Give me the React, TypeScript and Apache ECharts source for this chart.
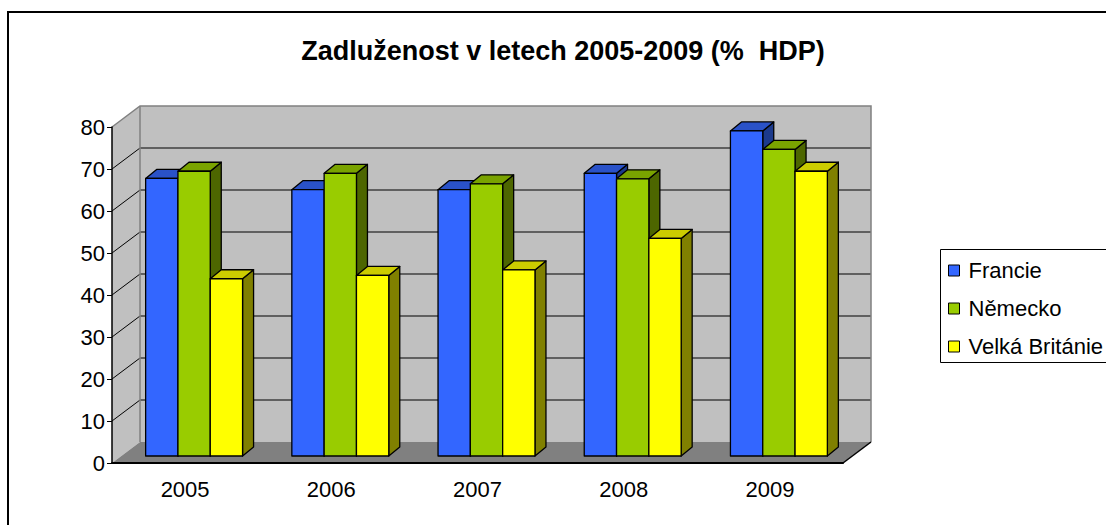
import React, { useEffect, useRef } from "react";
import * as echarts from "echarts";

const years = ["2005", "2006", "2007", "2008", "2009"];
const francie = [66.1, 63.4, 63.4, 67.3, 77.4];
const nemecko = [67.8, 67.3, 64.8, 66.0, 73.0];
const velkaBritanie = [42.2, 43.0, 44.3, 51.8, 67.8];
const seriesNames = ["Francie", "Německo", "Velká Británie"];
const yTicks = [0, 10, 20, 30, 40, 50, 60, 70, 80];

const FONT = "'Liberation Sans', Arial, sans-serif";
const colors = [
  { front: "#3366FF", top: "#2A52C8", side: "#1C3A8C" },
  { front: "#99CC00", top: "#7AA300", side: "#4D6600" },
  { front: "#FFFF00", top: "#CCCC00", side: "#808000" },
];

// depth geometry (pixels)
const WALL_DX = 28;
const WALL_DY = -21;
const BAR_OFF_DX = 9;
const BAR_OFF_DY = -7;
const BAR_DX = 11;
const BAR_DY = -9;
const BAR_FRAC = 0.221;

export default function App() {
  const ref = useRef<HTMLDivElement>(null);
  useEffect(() => {
    document.body.style.margin = "0";
    const chart = echarts.init(ref.current!, null, { renderer: "svg" });

    const wallsRender = (params: any, api: any) => {
      const band = api.size([1, 0])[0];
      const n = years.length;
      const left = api.coord([0, 0])[0] - band / 2;
      const right = api.coord([n - 1, 0])[0] + band / 2;
      const y0 = api.coord([0, yTicks[0]])[1];
      const yMax = api.coord([0, yTicks[yTicks.length - 1]])[1];
      const children: any[] = [];
      children.push({
        type: "polygon",
        shape: {
          points: [
            [left + WALL_DX, yMax + WALL_DY],
            [right + WALL_DX, yMax + WALL_DY],
            [right + WALL_DX, y0 + WALL_DY],
            [left + WALL_DX, y0 + WALL_DY],
          ],
        },
        style: { fill: "#C0C0C0", stroke: "none" },
      });
      children.push({
        type: "polygon",
        shape: {
          points: [
            [left, yMax],
            [left + WALL_DX, yMax + WALL_DY],
            [left + WALL_DX, y0 + WALL_DY],
            [left, y0],
          ],
        },
        style: { fill: "#C0C0C0", stroke: "none" },
      });
      for (let i = 1; i < yTicks.length - 1; i++) {
        const y = api.coord([0, yTicks[i]])[1];
        children.push({
          type: "polyline",
          shape: {
            points: [
              [left, y],
              [left + WALL_DX, y + WALL_DY],
              [right + WALL_DX, y + WALL_DY],
            ],
          },
          style: { stroke: "#000", lineWidth: 1, fill: "none" },
        });
      }
      children.push({
        type: "polyline",
        shape: {
          points: [
            [left, yMax],
            [left + WALL_DX, yMax + WALL_DY],
            [right + WALL_DX, yMax + WALL_DY],
            [right + WALL_DX, y0 + WALL_DY],
          ],
        },
        style: { stroke: "#808080", lineWidth: 1.5, fill: "none" },
      });
      children.push({
        type: "line",
        shape: { x1: left + WALL_DX, y1: yMax + WALL_DY, x2: left + WALL_DX, y2: y0 + WALL_DY },
        style: { stroke: "#808080", lineWidth: 1.5 },
      });
      children.push({
        type: "polygon",
        shape: {
          points: [
            [left, y0],
            [left + WALL_DX, y0 + WALL_DY],
            [right + WALL_DX, y0 + WALL_DY],
            [right, y0],
          ],
        },
        style: { fill: "#808080", stroke: "none" },
      });
      children.push({
        type: "line",
        shape: { x1: right + WALL_DX, y1: y0 + WALL_DY, x2: right, y2: y0 },
        style: { stroke: "#000", lineWidth: 1.5 },
      });
      return { type: "group", children };
    };

    const barRender = (sIdx: number) => (params: any, api: any) => {
      const cat = api.value(0);
      const val = api.value(1);
      const top = api.coord([cat, val]);
      const base = api.coord([cat, 0]);
      const band = api.size([1, 0])[0];
      const bw = band * BAR_FRAC;
      const cx = top[0] + (sIdx - 1) * bw + BAR_OFF_DX;
      const x0 = cx - bw / 2;
      const x1 = cx + bw / 2;
      const yT = top[1] + BAR_OFF_DY;
      const yB = base[1] + BAR_OFF_DY;
      const c = colors[sIdx];
      const edge = { stroke: "#000", lineWidth: 1.3, lineJoin: "round" };
      return {
        type: "group",
        children: [
          {
            type: "polygon",
            shape: {
              points: [
                [x1, yT],
                [x1 + BAR_DX, yT + BAR_DY],
                [x1 + BAR_DX, yB + BAR_DY],
                [x1, yB],
              ],
            },
            style: { fill: c.side, ...edge },
          },
          {
            type: "polygon",
            shape: {
              points: [
                [x0, yT],
                [x0 + BAR_DX, yT + BAR_DY],
                [x1 + BAR_DX, yT + BAR_DY],
                [x1, yT],
              ],
            },
            style: { fill: c.top, ...edge },
          },
          {
            type: "rect",
            shape: { x: x0, y: yT, width: bw, height: yB - yT },
            style: { fill: c.front, ...edge },
          },
        ],
      };
    };

    const datasets = [francie, nemecko, velkaBritanie];

    chart.setOption({
      animation: false,
      title: {
        text: "Zadluženost v letech 2005-2009 (%  HDP)",
        left: 563,
        textAlign: "center",
        top: 37,
        padding: 0,
        textStyle: { fontFamily: FONT, fontSize: 27, fontWeight: "bold", color: "#000" },
      },
      legend: {
        orient: "vertical",
        left: 948,
        top: 259,
        padding: 0,
        itemWidth: 11,
        itemHeight: 11,
        itemGap: 15,
        icon: "rect",
        itemStyle: { borderColor: "#000", borderWidth: 1 },
        textStyle: { fontFamily: FONT, fontSize: 22, color: "#000", lineHeight: 23, padding: [0, 0, 0, 4] },
        data: seriesNames,
      },
      grid: { left: 112, top: 127, width: 731, height: 336 },
      xAxis: {
        type: "category",
        data: years,
        z: 10,
        axisLine: { lineStyle: { color: "#000", width: 2 } },
        axisTick: { lineStyle: { color: "#000" }, length: 6 },
        axisLabel: { fontFamily: FONT, fontSize: 22, color: "#000", margin: 15 },
      },
      yAxis: {
        type: "value",
        min: 0,
        max: 80,
        interval: 10,
        z: 10,
        axisLine: { show: true, lineStyle: { color: "#000", width: 1.5 } },
        axisTick: { show: true, lineStyle: { color: "#000" }, length: 5 },
        axisLabel: { fontFamily: FONT, fontSize: 22, color: "#000", margin: 7 },
        splitLine: { show: false },
      },
      graphic: [
        {
          type: "rect",
          shape: { x: 8, y: 12, width: 1200, height: 600 },
          style: { fill: "none", stroke: "#000", lineWidth: 2 },
          z: 100,
        },
        {
          type: "rect",
          shape: { x: 940.5, y: 249.5, width: 300, height: 113 },
          style: { fill: "none", stroke: "#000", lineWidth: 1 },
          z: 100,
        },
      ],
      series: [
        {
          type: "custom",
          name: "walls",
          z: 1,
          silent: true,
          renderItem: wallsRender,
          data: [[0, 0]],
        },
        ...datasets.map((d, s) => ({
          type: "custom",
          name: seriesNames[s],
          z: 2,
          itemStyle: { color: colors[s].front },
          renderItem: barRender(s),
          data: d.map((v, i) => [i, v]),
        })),
      ],
    });
    return () => chart.dispose();
  }, []);
  return <div ref={ref} style={{ width: 1106, height: 525 }} />;
}
